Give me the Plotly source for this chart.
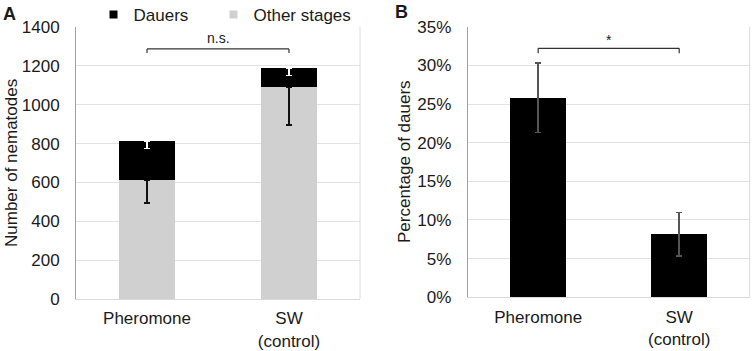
import plotly.graph_objects as go

categories = ["Pheromone", "SW<br>(control)"]
other_stages = [612, 1090]
other_err_minus = [118, 194]
dauers = [202, 100]
dauers_err_minus = [40, 40]
pct_dauers = [0.258, 0.0815]
pct_err = [0.045, 0.028]
ticks_a = [0, 200, 400, 600, 800, 1000, 1200, 1400]
ticks_b = [0, 0.05, 0.10, 0.15, 0.20, 0.25, 0.30, 0.35]

FONT = "Liberation Sans, Arial, sans-serif"
TXT = "#1a1a1a"
FS = 17
W, H = 754, 351

def px(x):
    return x / W

def py(y):
    return 1 - y / H

fig = go.Figure()

fig.add_trace(go.Bar(
    x=categories, y=other_stages, name="Other stages", marker_color="#d0d0d0",
    marker_line_width=0, showlegend=False, xaxis="x", yaxis="y",
    error_y=dict(type="data", symmetric=False, array=[0, 0], arrayminus=other_err_minus,
                 color="#111111", thickness=1.5, width=3),
))
fig.add_trace(go.Bar(
    x=categories, y=dauers, name="Dauers", marker_color="#000000",
    marker_line_width=0, showlegend=False, xaxis="x", yaxis="y",
    error_y=dict(type="data", symmetric=False, array=[0, 0], arrayminus=dauers_err_minus,
                 color="#ffffff", thickness=1.5, width=3),
))
fig.add_trace(go.Bar(
    x=categories, y=pct_dauers, name="pct", marker_color="#000000",
    marker_line_width=0, showlegend=False, xaxis="x2", yaxis="y2",
    error_y=dict(type="data", array=pct_err, color="#555555", thickness=1.5, width=3),
))

# legend proxies (one legend each, so both can be placed like the original)
fig.add_trace(go.Scatter(x=[None], y=[None], mode="markers", name="Dauers",
                         marker=dict(symbol="square", size=8, color="#000000"),
                         xaxis="x", yaxis="y", legend="legend"))
fig.add_trace(go.Scatter(x=[None], y=[None], mode="markers", name="Other stages",
                         marker=dict(symbol="square", size=8, color="#d0d0d0"),
                         xaxis="x", yaxis="y", legend="legend2"))

axis_common = dict(
    showgrid=True, gridcolor="#e2e2e2", gridwidth=1, zeroline=False,
    showline=True, linecolor="#a0a0a0", linewidth=1, automargin=False,
    ticks="", ticklabelstandoff=12, tickfont=dict(size=FS, color=TXT, family=FONT),
)
xaxis_common = dict(showgrid=False, showline=True, linecolor="#d9d9d9", ticks="",
                    automargin=False, ticklabelstandoff=4,
                    tickfont=dict(size=FS, color=TXT, family=FONT))

legend_common = dict(orientation="h", xanchor="left", yanchor="middle",
                     font=dict(size=FS, color=TXT, family=FONT),
                     bgcolor="rgba(0,0,0,0)")

fig.update_layout(
    width=W, height=H,
    margin=dict(l=0, r=0, t=0, b=0, autoexpand=False),
    paper_bgcolor="white", plot_bgcolor="white",
    barmode="stack", bargap=0.6,
    font=dict(family=FONT, color=TXT, size=FS),
    showlegend=True,
    legend=dict(x=px(93.5), y=py(15), **legend_common),
    legend2=dict(x=px(213.5), y=py(15), **legend_common),
    xaxis=dict(domain=[px(76), px(360)], anchor="y", **xaxis_common),
    yaxis=dict(domain=[py(299), py(27)], anchor="x", range=[0, 1400],
               tickvals=ticks_a, **axis_common),
    xaxis2=dict(domain=[px(467.7), px(749.7)], anchor="y2", **xaxis_common),
    yaxis2=dict(domain=[py(297.3), py(26.7)], anchor="x2", range=[0, 0.35],
                tickvals=ticks_b, tickformat=".0%", **axis_common),
)

# right borders of plot areas
for xr, yr in (("x domain", "y domain"), ("x2 domain", "y2 domain")):
    fig.add_shape(type="line", xref=xr, yref=yr, x0=1, x1=1, y0=0, y1=1,
                  line=dict(color="#dcdcdc", width=1))

# significance brackets
def bracket(xref, yref, y_top, y_end, label, label_y):
    line = dict(color="#333333", width=1.2)
    fig.add_shape(type="line", xref=xref, yref=yref, x0=0, x1=1, y0=y_top, y1=y_top, line=line)
    fig.add_shape(type="line", xref=xref, yref=yref, x0=0, x1=0, y0=y_top, y1=y_end, line=line)
    fig.add_shape(type="line", xref=xref, yref=yref, x0=1, x1=1, y0=y_top, y1=y_end, line=line)
    fig.add_annotation(xref=xref, yref=yref, x=0.5, y=label_y, text=label, showarrow=False,
                       font=dict(size=14, color=TXT, family=FONT), yanchor="middle")

bracket("x", "y", 1287, 1266, "n.s.", 1345)
bracket("x2", "y2", 0.322, 0.3156, "*", 0.333)

# axis titles
fig.add_annotation(xref="paper", yref="paper", x=px(11), y=py(163), text="Number of nematodes",
                   textangle=-90, showarrow=False, xanchor="center", yanchor="middle",
                   font=dict(size=FS, color=TXT, family=FONT))
fig.add_annotation(xref="paper", yref="paper", x=px(404), y=py(162), text="Percentage of dauers",
                   textangle=-90, showarrow=False, xanchor="center", yanchor="middle",
                   font=dict(size=FS, color=TXT, family=FONT))

# panel labels
fig.add_annotation(xref="paper", yref="paper", x=px(1), y=py(2), text="<b>A</b>",
                   xanchor="left", yanchor="top", showarrow=False,
                   font=dict(size=18, color=TXT, family=FONT))
fig.add_annotation(xref="paper", yref="paper", x=px(393), y=py(0), text="<b>B</b>",
                   xanchor="left", yanchor="top", showarrow=False,
                   font=dict(size=18, color=TXT, family=FONT))

# remove the default 8px page margin so the 754x351 figure fills the window
fig.write_html("out.html", config={"displayModeBar": False},
               post_script="document.body.style.margin='0px';")
